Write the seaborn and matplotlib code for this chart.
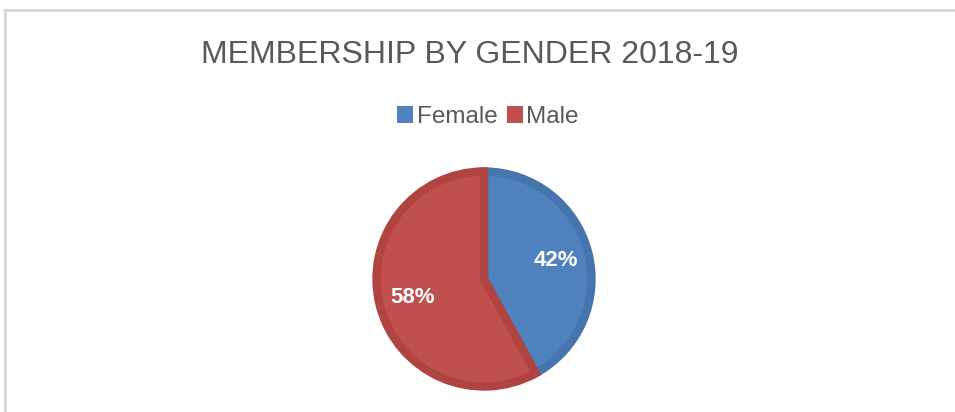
import matplotlib
matplotlib.use("Agg")
import matplotlib.pyplot as plt
import seaborn as sns
from matplotlib.lines import Line2D
from matplotlib.patches import Patch

sns.set_theme(style="white")

title = "MEMBERSHIP BY GENDER 2018-19"
categories = ["Female", "Male"]
values = [42, 58]
fill_colors = ["#4F81BD", "#C0504D"]
edge_colors = ["#4674AC", "#B04440"]

plt.rcParams['font.family'] = ["Liberation Sans", "DejaVu Sans"]

fig = plt.figure(figsize=(9.55, 4.12), dpi=100)
fig.patch.set_facecolor("white")

# frame lines (top and left, cropped chart border)
fig.add_artist(Line2D([4.5/955, 4.5/955], [0, 1 - 10/412], transform=fig.transFigure,
                      color="#D9D9D9", lw=2.2))
fig.add_artist(Line2D([4/955, 1], [1 - 10/412, 1 - 10/412], transform=fig.transFigure,
                      color="#D9D9D9", lw=2.2))

fig.text(470/955, 1 - 55/412, title, ha="center", va="center", fontsize=23,
         color="#595959")

ax = fig.add_axes([372/955, 21/412, 224/955, 224/412])
wedges, texts, autotexts = ax.pie(
    values, colors=fill_colors, startangle=90, counterclock=False,
    radius=0.96, autopct="%d%%", pctdistance=0.69,
    wedgeprops=dict(linewidth=6, edgecolor="none"),
    textprops=dict(color="white", fontsize=16, fontweight="bold"))
for w, ec in zip(wedges, edge_colors):
    w.set_edgecolor(ec)
    w.set_joinstyle("miter")
ax.set_xlim(-1, 1)
ax.set_ylim(-1, 1)
ax.set_aspect("equal")
ax.axis("off")

handles = [Patch(facecolor=c, edgecolor="none") for c in fill_colors]
leg = fig.legend(handles, categories, loc="center", bbox_to_anchor=(488/955, 1 - 117/412),
                 ncol=2, frameon=False, fontsize=17.5, handlelength=0.65, handleheight=0.65,
                 handletextpad=0.15, columnspacing=0.4)
for t in leg.get_texts():
    t.set_color("#595959")

fig.savefig("out.png", dpi=100, facecolor="white")
